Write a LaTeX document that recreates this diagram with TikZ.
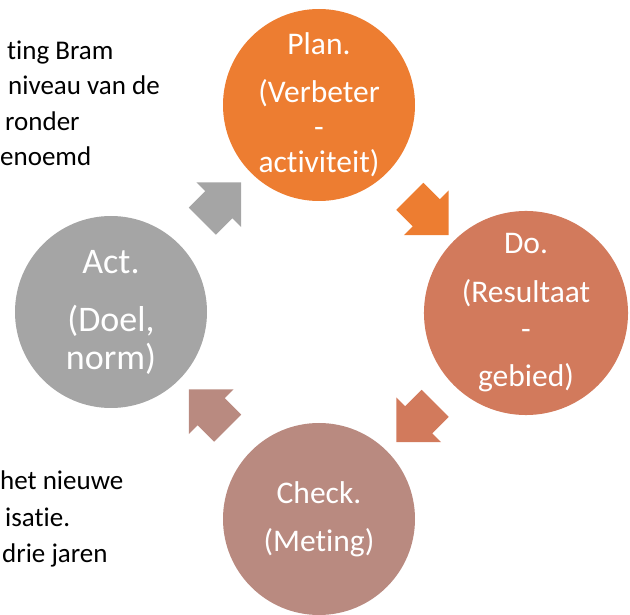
\documentclass[tikz,border=0pt]{standalone}
\usepackage{fontspec}
\setmainfont{Carlito}[Ligatures=NoCommon]
\usetikzlibrary{shapes.arrows,calc}
\definecolor{planorange}{HTML}{ED7D31}
\definecolor{dosalmon}{HTML}{D27A5C}
\definecolor{checkrose}{HTML}{B98A80}
\definecolor{actgray}{HTML}{A5A5A5}
\tikzset{sidetext/.style={anchor=base west,inner sep=0pt,font=\fontsize{27}{35}\selectfont}}
\begin{document}
\begin{tikzpicture}[x=1pt,y=1pt]
        \useasboundingbox (0,0) rectangle (630,614);
        \begin{scope}[every node/.style={circle,minimum size=192pt,inner sep=0pt,text=white,align=center,font=\fontsize{31.5}{35}\selectfont}]
            \node (plan) [fill=planorange] at (319,509) {Plan.\\[13pt](Verbeter\\-\\activiteit)};
            \node (do) [fill=dosalmon] at (526,301) {Do.\\[14pt](Resultaat\\[2pt]-\\[12pt]gebied)};
            \node (check) [fill=checkrose] at (319,95) {Check.\\[13pt](Meting)};
            \node (act) [fill=actgray,font=\fontsize{36}{38}\selectfont] at (111,302) {Act.\\[20pt](Doel,\\norm)};
        \end{scope}
        \begin{scope}[every node/.style={single arrow,minimum height=55pt,inner xsep=0pt,inner ysep=19pt,single arrow head extend=12.5pt}]
            \node (plando) [fill=planorange,rotate=-45] at ($(plan)!0.5!(do)$) {};
            \node (docheck) [fill=dosalmon,rotate=-135] at ($(do)!0.5!(check)$) {};
            \node (checkact) [fill=checkrose,rotate=135] at ($(check)!0.5!(act)$) {};
            \node (actplan) [fill=actgray,rotate=45] at ($(act)!0.5!(plan)$) {};
        \end{scope}
        \begin{scope}[every node/.style={sidetext}]
            \node (t1) at (7,554) {ting Bram};
            \node (t2) at (8,519) {niveau van de};
            \node (t3) at (5,483) {ronder};
            \node (t4) at (0,448) {enoemd};
            \node (b1) at (0,124) {het nieuwe};
            \node (b2) at (5,88) {isatie.};
            \node (b3) at (2,52) {drie jaren};
        \end{scope}
    \end{tikzpicture}
\end{document}
